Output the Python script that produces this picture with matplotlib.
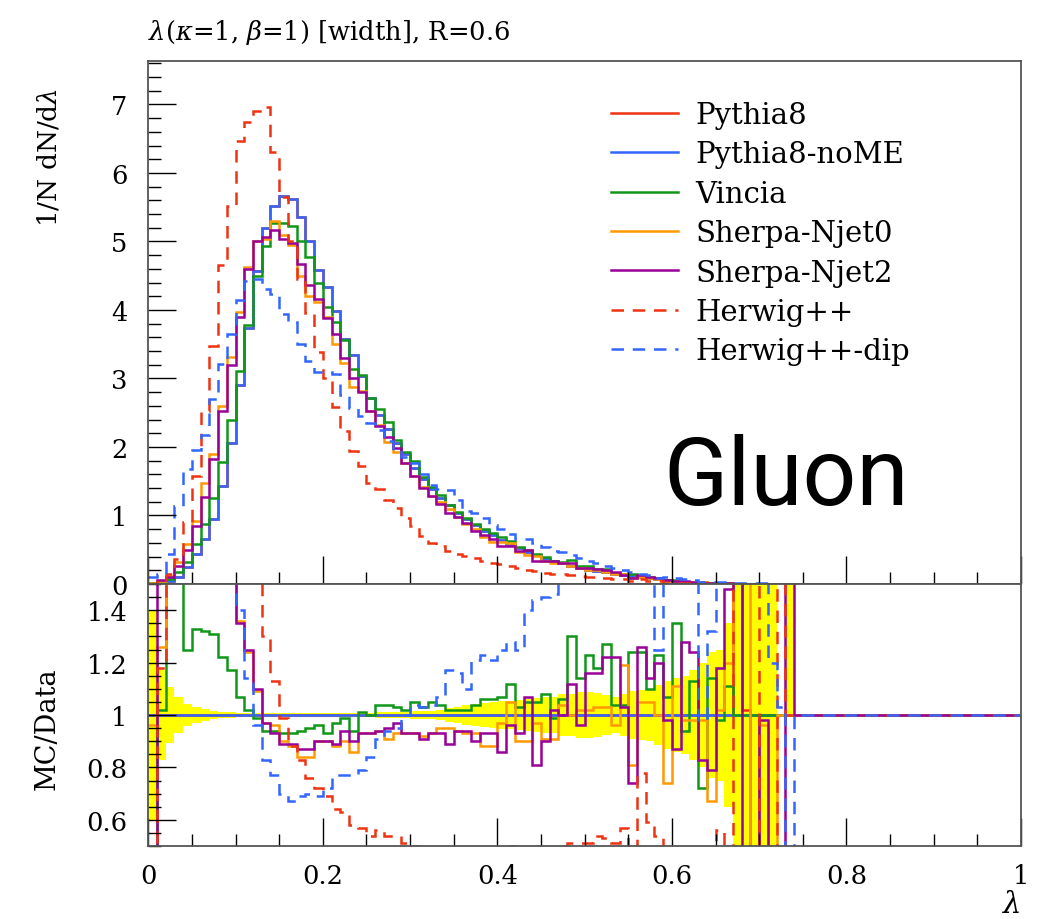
import numpy as np
import matplotlib
matplotlib.use("Agg")
import matplotlib.pyplot as plt
from matplotlib.lines import Line2D
from matplotlib.ticker import MultipleLocator, FixedLocator, FixedFormatter

plt.rcParams['font.family'] = ['DejaVu Serif']
plt.rcParams['mathtext.fontset'] = 'dejavuserif'

# 100 bins of width 0.01 in lambda; values listed up to lambda = 0.75
edges = np.linspace(0.0, 1.0, 101)

# 1/N dN/dlambda
nome = [0.02, 0.03, 0.05, 0.1, 0.25, 0.44, 0.66, 0.95, 1.43, 2.06,
        2.9, 3.73, 4.57, 5.2, 5.52, 5.67, 5.62, 5.36, 5.01, 4.58,
        4.33, 3.98, 3.58, 3.34, 3.03, 2.72, 2.47, 2.27, 2.06, 1.9,
        1.7, 1.54, 1.38, 1.26, 1.15, 1.04, 0.95, 0.86, 0.78, 0.71,
        0.64, 0.57, 0.52, 0.47, 0.42, 0.37, 0.33, 0.3, 0.27, 0.24,
        0.21, 0.19, 0.17, 0.15, 0.13, 0.115, 0.1, 0.085, 0.07, 0.055,
        0.045, 0.035, 0.028, 0.022, 0.017, 0.013, 0.01, 0.007, 0.005, 0.004,
        0.003, 0.002, 0.002, 0.001, 0.001]
pythia8 = list(nome)  # sits right under the noME curve
vincia = [0.01, 0.03, 0.07, 0.17, 0.32, 0.58, 0.88, 1.25, 1.78, 2.39,
          3.11, 3.78, 4.5, 4.94, 5.27, 5.27, 5.23, 5.01, 4.77, 4.39,
          4.05, 3.82, 3.56, 3.14, 3.05, 2.72, 2.56, 2.36, 2.1, 1.93,
          1.8, 1.56, 1.42, 1.3, 1.16, 1.05, 0.96, 0.88, 0.81, 0.74,
          0.68, 0.63, 0.54, 0.49, 0.44, 0.4, 0.33, 0.32, 0.35, 0.27,
          0.26, 0.22, 0.22, 0.16, 0.14, 0.14, 0.12, 0.095, 0.085, 0.06,
          0.06, 0.033, 0.032, 0.016, 0.02, 0.013, 0.011, 0.005, 0.004, 0.003,
          0.002, 0.002, 0.001, 0.001, 0.001]
njet0 = [0.02, 0.04, 0.12, 0.32, 0.58, 0.92, 1.48, 1.9, 2.6, 3.31,
         3.97, 4.63, 5.0, 5.04, 5.3, 5.1, 4.95, 4.5, 4.2, 4.12,
         3.9, 3.5, 3.22, 2.87, 2.82, 2.53, 2.32, 2.07, 1.92, 1.77,
         1.58, 1.42, 1.28, 1.2, 1.09, 0.98, 0.88, 0.8, 0.69, 0.62,
         0.62, 0.6, 0.47, 0.42, 0.41, 0.34, 0.3, 0.31, 0.27, 0.24,
         0.21, 0.2, 0.18, 0.14, 0.15, 0.09, 0.1, 0.09, 0.07, 0.04,
         0.05, 0.034, 0.027, 0.022, 0.011, 0.013, 0.012, 0.005, 0.004, 0.003,
         0.002, 0.002, 0.001, 0.001, 0.001]
njet2 = [0.005, 0.06, 0.1, 0.26, 0.49, 0.84, 1.27, 1.82, 2.52, 3.19,
         3.9, 4.6, 5.01, 5.06, 5.17, 5.04, 4.98, 4.67, 4.36, 4.16,
         3.88, 3.65, 3.3, 3.0, 2.8, 2.53, 2.31, 2.14, 1.98, 1.76,
         1.58, 1.4, 1.28, 1.17, 1.03, 0.98, 0.89, 0.78, 0.72, 0.66,
         0.55, 0.55, 0.48, 0.5, 0.34, 0.33, 0.34, 0.3, 0.3, 0.23,
         0.24, 0.22, 0.21, 0.18, 0.13, 0.085, 0.125, 0.1, 0.084, 0.054,
         0.039, 0.045, 0.035, 0.018, 0.013, 0.015, 0.015, 0.006, 0.004, 0.003,
         0.002, 0.002, 0.001, 0.001, 0.001]
herwig = [0.0, 0.035, 0.15, 0.36, 0.9, 1.58, 2.52, 3.47, 4.66, 5.52,
          6.47, 6.74, 6.91, 6.96, 6.3, 5.65, 5.0, 4.45, 3.95, 3.38,
          3.0, 2.58, 2.24, 1.94, 1.72, 1.48, 1.39, 1.23, 1.11, 0.97,
          0.85, 0.7, 0.6, 0.55, 0.48, 0.44, 0.41, 0.38, 0.34, 0.31,
          0.29, 0.27, 0.24, 0.21, 0.19, 0.16, 0.15, 0.14, 0.135, 0.12,
          0.105, 0.1, 0.09, 0.075, 0.07, 0.045, 0.075, 0.05, 0.038, 0.015,
          0.012, 0.01, 0.008, 0.006, 0.005, 0.007, 0.0, 0.004, 0.003, 0.002,
          0.0, 0.0, 0.002, 0.001, 0.0]
herwig_dip = [0.1, 0.15, 0.44, 1.14, 1.68, 1.95, 2.17, 2.7, 3.21, 3.65,
              4.15, 4.42, 4.45, 4.3, 4.23, 3.94, 3.82, 3.5, 3.26, 3.1,
              3.1, 3.06, 2.76, 2.57, 2.45, 2.35, 2.25, 2.09, 1.96, 1.86,
              1.77, 1.6, 1.44, 1.38, 1.37, 1.22, 1.06, 1.04, 0.96, 0.86,
              0.8, 0.73, 0.65, 0.66, 0.6, 0.54, 0.48, 0.46, 0.42, 0.38,
              0.34, 0.3, 0.27, 0.24, 0.2, 0.17, 0.15, 0.13, 0.09, 0.1,
              0.085, 0.07, 0.06, 0.022, 0.022, 0.03, 0.025, 0.02, 0.016, 0.012,
              0.009, 0.003, 0.002, 0.0, 0.0]

# MC/Data (values past the axis range are clipped)
rat_pythia8 = [1.0] * 67 + [1.7, 1.02, 0.0, 1.0]
rat_nome = [1.0] * 100
rat_vincia = [0.3, 1.02, 1.7, 1.7, 1.25, 1.33, 1.32, 1.31, 1.22, 1.17,
              1.07, 1.02, 0.99, 0.94, 0.94, 0.93, 0.93, 0.94, 0.95, 0.96,
              0.93, 0.97, 0.99, 0.94, 1.01, 1.0, 1.04, 1.04, 1.03, 1.02,
              1.05, 1.03, 1.05, 1.04, 1.02, 1.02, 1.02, 1.04, 1.06, 1.06,
              1.07, 1.12, 1.03, 1.05, 1.05, 1.08, 0.99, 1.06, 1.3, 1.14,
              1.23, 1.18, 1.27, 1.04, 1.04, 1.24, 1.24, 1.1, 1.23, 1.07,
              1.35, 0.94, 1.13, 0.72, 1.14, 0.98, 1.11, 1.0]
rat_njet0 = [0.96, 1.26, 1.7, 1.7, 1.7, 1.7, 1.7, 1.7, 1.7, 1.7,
             1.36, 1.24, 1.09, 0.97, 0.96, 0.9, 0.88, 0.84, 0.84, 0.9,
             0.9, 0.88, 0.9, 0.86, 0.93, 0.93, 0.94, 0.91, 0.93, 0.93,
             0.93, 0.92, 0.93, 0.95, 0.95, 0.94, 0.93, 0.93, 0.88, 0.88,
             0.97, 1.05, 0.9, 0.9, 0.97, 0.91, 0.91, 1.04, 1.0, 1.02,
             1.02, 1.03, 1.03, 0.96, 1.19, 0.81, 1.05, 1.05, 1.0, 0.74,
             1.11, 0.98, 0.98, 0.98, 0.67, 1.02, 1.2, 1.7, 1.7, 0.0,
             0.96, 0.0, 1.0]
rat_njet2 = [0.3, 1.7, 1.7, 1.7, 1.7, 1.7, 1.7, 1.7, 1.7, 1.7,
             1.35, 1.25, 1.1, 0.97, 0.93, 0.89, 0.89, 0.87, 0.87, 0.9,
             0.9, 0.89, 0.94, 0.9, 0.93, 0.93, 0.94, 0.95, 0.97, 0.93,
             0.93, 0.91, 0.93, 0.93, 0.89, 0.94, 0.94, 0.9, 0.93, 0.93,
             0.86, 0.96, 0.93, 1.07, 0.81, 0.9, 1.02, 1.0, 1.12, 0.96,
             1.16, 1.16, 1.22, 1.22, 1.03, 0.74, 1.26, 1.14, 1.2, 0.98,
             0.87, 1.28, 1.24, 0.83, 0.79, 1.18, 1.48, 1.7, 0.0, 0.0,
             0.98, 0.0, 0.0, 1.7, 1.0]
rat_herwig = [0.3, 1.18, 1.7, 1.7, 1.7, 1.7, 1.7, 1.7, 1.7, 1.7,
              1.7, 1.7, 1.7, 1.3, 1.13, 0.99, 0.88, 0.83, 0.76, 0.72,
              0.69, 0.64, 0.63, 0.58, 0.57, 0.54, 0.56, 0.54, 0.54, 0.51,
              0.5, 0.4, 0.4, 0.4, 0.4, 0.4, 0.4, 0.4, 0.4, 0.4,
              0.4, 0.5, 0.4, 0.4, 0.4, 0.4, 0.4, 0.5, 0.51, 0.51,
              0.51, 0.54, 0.53, 0.51, 0.57, 0.4, 0.78, 0.59, 0.54, 0.3,
              0.3, 0.3, 0.3, 0.3, 0.3, 0.56, 0.0, 1.7, 1.7, 1.7,
              0.0, 0.0, 1.7, 1.0]
rat_dip = [1.7, 1.7, 1.7, 1.7, 1.7, 1.7, 1.7, 1.7, 1.7, 1.7,
           1.4, 1.14, 0.96, 0.83, 0.77, 0.7, 0.67, 0.69, 0.7, 0.69,
           0.72, 0.77, 0.77, 0.77, 0.79, 0.84, 0.91, 0.94, 0.95, 1.0,
           1.04, 1.03, 1.04, 1.07, 1.17, 1.16, 1.1, 1.21, 1.23, 1.21,
           1.25, 1.28, 1.25, 1.4, 1.44, 1.45, 1.46, 1.7, 1.7, 1.7,
           1.7, 1.7, 1.7, 1.7, 1.7, 1.7, 1.7, 1.7, 1.25, 1.7,
           1.7, 1.7, 1.7, 0.98, 1.32, 1.7, 1.7, 1.7, 1.7, 1.7,
           1.7, 1.2, 1.03, 0.0, 1.0]

# reference uncertainty band (half width), upper edge differs in one bin
band_err = [0.4, 0.17, 0.105, 0.067, 0.042, 0.031, 0.022, 0.017, 0.013, 0.01,
            0.009, 0.008, 0.007, 0.006, 0.006, 0.006, 0.006, 0.006, 0.006, 0.007,
            0.007, 0.007, 0.008, 0.008, 0.009, 0.009, 0.01, 0.011, 0.012, 0.013,
            0.014, 0.015, 0.016, 0.018, 0.025, 0.03, 0.04, 0.042, 0.047, 0.05,
            0.052, 0.055, 0.058, 0.062, 0.066, 0.068, 0.07, 0.08, 0.082, 0.086,
            0.088, 0.085, 0.075, 0.07, 0.08, 0.092, 0.095, 0.1, 0.115, 0.13,
            0.14, 0.15, 0.17, 0.2, 0.24, 0.25, 0.35, 0.6, 0.6, 0.6,
            0.6, 0.6, 0.0, 0.0, 0.0]
band_err_up = list(band_err)
band_err_up[73] = 0.6


def pad(vals, fill):
    return np.array(list(vals) + [fill] * (100 - len(vals)))


series = [
    ("Pythia8", pythia8, rat_pythia8, "#EE3311", "-"),
    ("Pythia8-noME", nome, rat_nome, "#3366FF", "-"),
    ("Vincia", vincia, rat_vincia, "#109618", "-"),
    ("Sherpa-Njet0", njet0, rat_njet0, "#FF9900", "-"),
    ("Sherpa-Njet2", njet2, rat_njet2, "#990099", "-"),
    ("Herwig++", herwig, rat_herwig, "#EE3311", "--"),
    ("Herwig++-dip", herwig_dip, rat_dip, "#3366FF", "--"),
]

W, H = 1053, 920
fig = plt.figure(figsize=(W / 100, H / 100), dpi=100)
x0, x1 = 148.3, 1021.0
ax1 = fig.add_axes([x0 / W, 1 - 585 / H, (x1 - x0) / W, (585 - 62) / H])
ax2 = fig.add_axes([x0 / W, 1 - 847 / H, (x1 - x0) / W, (847 - 585) / H])

lw = 1.8
dash = (0, (5, 3.5))
handles, labels = [], []
for name, top, rat, col, ls in series:
    style = "-" if ls == "-" else dash
    ax1.stairs(pad(top, 0.0), edges, baseline=None, color=col, lw=lw, ls=style)
    handles.append(Line2D([], [], color=col, lw=lw, ls=style))
    labels.append(name)

lo = 1 - pad(band_err, 0.0)
hi = 1 + pad(band_err_up, 0.0)
ax2.stairs(hi, edges, baseline=lo, fill=True, color="#FFFF00", lw=0)
for name, top, rat, col, ls in series:
    style = "-" if ls == "-" else dash
    ax2.stairs(pad(rat, 1.0), edges, baseline=None, color=col, lw=lw, ls=style)

spine_col = "#555555"
for ax in (ax1, ax2):
    ax.set_xlim(0, 1)
    for s in ax.spines.values():
        s.set_color(spine_col)
        s.set_linewidth(1.3)
    ax.xaxis.set_major_locator(MultipleLocator(0.2))
    ax.xaxis.set_minor_locator(MultipleLocator(0.05))
    ax.tick_params(which="both", direction="in", top=False, right=False,
                   colors="black", labelsize=18.5, width=1.0)
    ax.tick_params(which="major", length=20, pad=15)
    ax.tick_params(which="minor", length=9)

ax1.set_ylim(0, 7.635)
ax1.yaxis.set_major_locator(MultipleLocator(1))
ax1.yaxis.set_minor_locator(MultipleLocator(0.2))
ax1.tick_params(axis="x", labelbottom=False)

ax2.set_ylim(0.5, 1.5)
ax2.yaxis.set_major_locator(FixedLocator([0.6, 0.8, 1.0, 1.2, 1.4]))
ax2.yaxis.set_major_formatter(FixedFormatter(["0.6", "0.8", "1", "1.2", "1.4"]))
ax2.yaxis.set_minor_locator(MultipleLocator(0.05))
ax2.xaxis.set_major_locator(FixedLocator([0, 0.2, 0.4, 0.6, 0.8, 1.0]))
ax2.xaxis.set_major_formatter(FixedFormatter(["0", "0.2", "0.4", "0.6", "0.8", "1"]))
ax2.tick_params(axis="x", which="major", pad=12)

ax1.set_ylabel("1/N dN/d$\\lambda$", fontsize=19, loc="top")
ax1.yaxis.set_label_coords(-0.1, 0.95)
ax2.set_ylabel("MC/Data", fontsize=19.5)
ax2.yaxis.set_label_coords(-0.1, 0.45)
ax2.set_xlabel("$\\lambda$", fontsize=21, loc="right", labelpad=2)

fig.text(x0 / W, 1 - 40 / H, "$\\lambda$($\\kappa$=1, $\\beta$=1) [width], R=0.6",
         fontsize=18.5, ha="left", va="baseline")

ax1.text((663 - x0) / (x1 - x0), (585 - 505) / 523, "Gluon", transform=ax1.transAxes,
         fontsize=68, family=["Roboto", "DejaVu Sans"], fontweight="normal",
         ha="left", va="baseline")

ax1.legend(handles, labels, loc="upper left",
           bbox_to_anchor=((611 - x0) / (x1 - x0), (585 - 102) / 523),
           frameon=False, fontsize=21, handlelength=2.3, handletextpad=0.6,
           labelspacing=0.39, borderpad=0, borderaxespad=0)

fig.savefig("out.png", dpi=100)
